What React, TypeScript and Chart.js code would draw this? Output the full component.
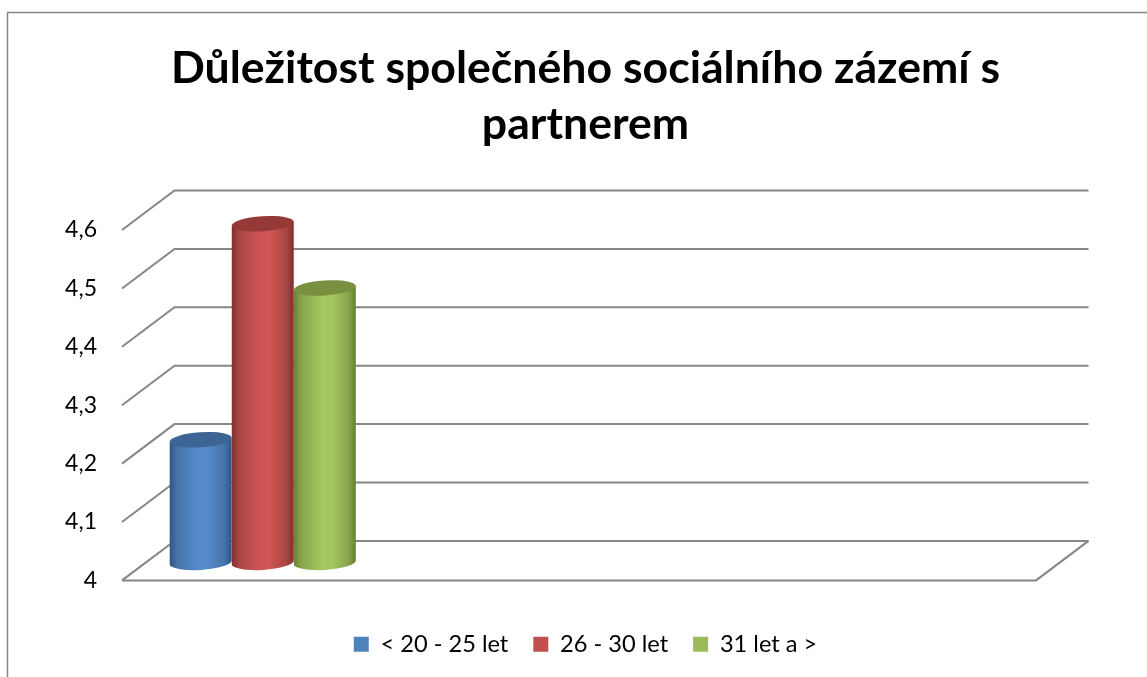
import React, { useEffect, useRef } from "react";
import { Chart, BarController, registerables } from "chart.js";

Chart.register(...registerables);

const titleLines = ["Důležitost společného sociálního zázemí s", "partnerem"];
const categories = ["", "", "", ""];
const seriesNames = ["< 20 - 25 let", "26 - 30 let", "31 let a >"];
const youngValues = [4.21, null, null, null];
const middleValues = [4.58, null, null, null];
const olderValues = [4.47, null, null, null];
const axisMin = 4;
const axisMax = 4.6;
const seriesColors = ["#4F81BD", "#C0504D", "#9BBB59"];
const edgeColors = ["#2F5586", "#7E2F2D", "#66802F"];
const midColors = ["#4673A9", "#A94644", "#88A54C"];
const brightColors = ["#558ACB", "#CD5553", "#A5C661"];
const capColors = ["#3C6593", "#943937", "#789040"];

const GRID = "#868686";
const DEPTH_X = 52.5;
const DEPTH_Y = -39.5;
const BAR_DX = 26.5;
const BAR_DY = -18;
const TILT = (-3.7 * Math.PI) / 180;
const CAP_RY = 7.5;

class CylinderController extends BarController {
  draw() {
    const ctx = this.chart.ctx;
    const meta = this.getMeta();
    const i = this.index;
    meta.data.forEach((el: any, idx: number) => {
      const v = this.getDataset().data[idx];
      if (v === null || v === undefined) return;
      const cx = el.x + BAR_DX;
      const a = el.width / 2;
      const topY = el.y + BAR_DY;
      const baseY = el.base + BAR_DY;
      const ax = a * Math.cos(TILT);
      const ay = a * Math.sin(TILT);
      const g = ctx.createLinearGradient(cx - a, 0, cx + a, 0);
      g.addColorStop(0, edgeColors[i]);
      g.addColorStop(0.12, midColors[i]);
      g.addColorStop(0.45, brightColors[i]);
      g.addColorStop(0.62, brightColors[i]);
      g.addColorStop(0.88, midColors[i]);
      g.addColorStop(1, edgeColors[i]);
      ctx.save();
      ctx.fillStyle = g;
      ctx.beginPath();
      ctx.moveTo(cx - ax, topY - ay);
      ctx.lineTo(cx - ax, baseY - ay);
      ctx.ellipse(cx, baseY, a, CAP_RY, TILT, Math.PI, 0, true);
      ctx.lineTo(cx + ax, topY + ay);
      ctx.closePath();
      ctx.fill();
      ctx.fillStyle = capColors[i];
      ctx.beginPath();
      ctx.ellipse(cx, topY, a, CAP_RY, TILT, 0, Math.PI * 2);
      ctx.fill();
      ctx.restore();
    });
  }
}
(CylinderController as any).id = "cylinder";
(CylinderController as any).defaults = BarController.defaults;
(CylinderController as any).overrides = BarController.overrides;
Chart.register(CylinderController as any);

const wallsPlugin = {
  id: "walls",
  beforeDraw(chart: any) {
    const { ctx, width, height } = chart;
    ctx.save();
    ctx.fillStyle = "#FFFFFF";
    ctx.fillRect(0, 0, width, height);
    ctx.strokeStyle = GRID;
    ctx.lineWidth = 1.5;
    ctx.beginPath();
    ctx.moveTo(7.5, height);
    ctx.lineTo(7.5, 12.5);
    ctx.lineTo(width, 12.5);
    ctx.stroke();
    ctx.restore();
  },
  beforeDatasetsDraw(chart: any) {
    const { ctx, chartArea, scales } = chart;
    const y = scales.y;
    ctx.save();
    ctx.strokeStyle = GRID;
    ctx.lineWidth = 2;
    ctx.lineJoin = "miter";
    y.ticks.forEach((t: any) => {
      const py = y.getPixelForValue(t.value);
      ctx.beginPath();
      ctx.moveTo(chartArea.left, py);
      ctx.lineTo(chartArea.left + DEPTH_X, py + DEPTH_Y);
      ctx.lineTo(chartArea.right + DEPTH_X, py + DEPTH_Y);
      ctx.stroke();
    });
    const py0 = y.getPixelForValue(y.min);
    ctx.beginPath();
    ctx.moveTo(chartArea.left, py0);
    ctx.lineTo(chartArea.right, py0);
    ctx.lineTo(chartArea.right + DEPTH_X, py0 + DEPTH_Y);
    ctx.stroke();
    ctx.restore();
  },
};

export default function App() {
  const ref = useRef<HTMLCanvasElement>(null);
  useEffect(() => {
    const makeSet = (i: number, data: any[]) => ({
      label: seriesNames[i],
      data,
      backgroundColor: seriesColors[i],
      borderWidth: 0,
      base: axisMin,
      clip: false as any,
    });
    const chart = new Chart(ref.current!, {
      type: "cylinder" as any,
      data: {
        labels: categories,
        datasets: [makeSet(0, youngValues), makeSet(1, middleValues), makeSet(2, olderValues)],
      },
      plugins: [wallsPlugin],
      options: {
        responsive: false,
        animation: false,
        layout: { padding: { left: 24, right: 0, top: 41, bottom: 11 } },
        datasets: { cylinder: { barPercentage: 1, categoryPercentage: 0.815 } } as any,
        plugins: {
          tooltip: { enabled: false },
          title: {
            display: true,
            text: titleLines,
            color: "#000000",
            font: { family: "Lato", size: 44.6, weight: "bold", lineHeight: 1.256 },
            padding: { top: 0, bottom: 77 },
          },
          legend: {
            display: true,
            position: "bottom",
            labels: {
              color: "#000000",
              font: { family: "Lato", size: 23.6 },
              boxWidth: 15,
              boxHeight: 15,
              padding: 25,
            },
          },
        },
        scales: {
          x: {
            type: "category",
            offset: true,
            ticks: { display: false },
            grid: { display: false, offset: true },
            border: { display: false },
            afterFit(scale: any) {
              scale.height = 27;
            },
          },
          y: {
            type: "linear",
            min: axisMin,
            max: axisMax,
            afterFit(scale: any) {
              scale.width = 98;
            },
            ticks: {
              stepSize: 0.1,
              padding: 25,
              color: "#000000",
              font: { family: "Lato", size: 23 },
              callback: (v: any) => String(Math.round(Number(v) * 10) / 10).replace(".", ","),
            },
            grid: { display: false, drawTicks: false },
            border: { display: false },
          },
          depthGutter: {
            type: "linear",
            position: "right",
            ticks: { display: false },
            grid: { display: false, drawTicks: false },
            border: { display: false },
            afterFit(scale: any) {
              scale.width = 111;
            },
          },
        },
      } as any,
    });
    return () => chart.destroy();
  }, []);
  return (
    <div style={{ position: "absolute", left: 0, top: 0, width: 1147, height: 677, background: "#fff" }}>
      <canvas ref={ref} width={1147} height={677} style={{ display: "block" }} />
    </div>
  );
}
